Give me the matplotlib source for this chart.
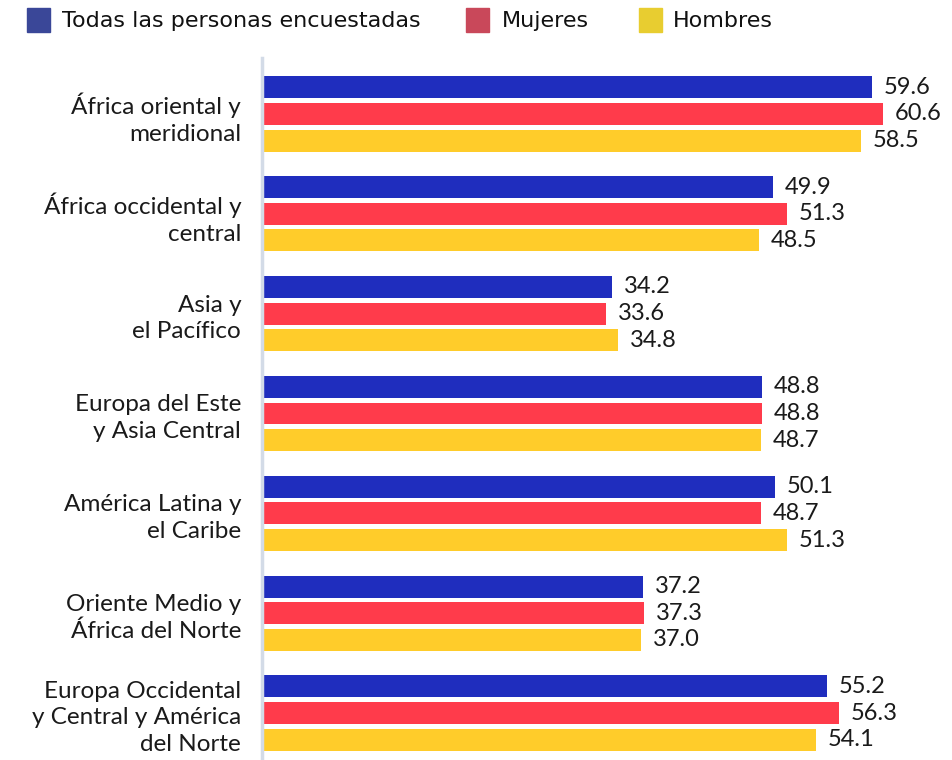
import matplotlib
matplotlib.use("Agg")
import matplotlib.pyplot as plt
from matplotlib.patches import Rectangle
import numpy as np

categories = ["África oriental y\nmeridional", "África occidental y\ncentral", "Asia y\nel Pacífico",
              "Europa del Este\ny Asia Central", "América Latina y\nel Caribe", "Oriente Medio y\nÁfrica del Norte",
              "Europa Occidental\ny Central y América\ndel Norte"]
todas = [59.6, 49.9, 34.2, 48.8, 50.1, 37.2, 55.2]
mujeres = [60.6, 51.3, 33.6, 48.8, 48.7, 37.3, 56.3]
hombres = [58.5, 48.5, 34.8, 48.7, 51.3, 37.0, 54.1]
series_names = ["Todas las personas encuestadas", "Mujeres", "Hombres"]

bar_colors = ["#1f2dbe", "#ff3b4b", "#ffcc2a"]
legend_colors = ["#3a4798", "#c9485a", "#e8cd30"]

W, H = 953, 760
fig = plt.figure(figsize=(W / 100, H / 100), dpi=100)
ax = fig.add_axes([262 / W, 0, 1 - 262 / W, 1 - 58 / H])

font = "Lato"
y = np.arange(len(categories))
off = 0.267
h = 0.22
for i, (vals, col) in enumerate(zip([todas, mujeres, hombres], bar_colors)):
    ys = y + (i - 1) * off
    ax.barh(ys, vals, height=h, color=col, left=0)
    for yy, v in zip(ys, vals):
        ax.text(v + 1.15, yy, f"{v:.1f}", va="center", ha="left", fontsize=17,
                family=font, color="#1a1a1a")

ax.set_ylim(len(categories) - 1 + 0.47, -0.56)
ax.set_xlim(0, (W - 262) / 10.24)
for s in ["top", "right", "bottom"]:
    ax.spines[s].set_visible(False)
ax.spines["left"].set_color("#d3dbe7")
ax.spines["left"].set_linewidth(2.5)
ax.set_xticks([])
ax.set_yticks(y)
ax.set_yticklabels(categories, fontsize=17.5, family=font, color="#1a1a1a", linespacing=1.33)
ax.tick_params(axis="y", length=0, pad=15)

# legend
leg_items = [(27, 62), (466, 502), (639, 673)]
for (sx, tx), name, col in zip(leg_items, series_names, legend_colors):
    fig.patches.append(Rectangle((sx / W, 1 - 32 / H), 23 / W, 24 / H, transform=fig.transFigure,
                                 color=col, figure=fig))
    fig.text(tx / W, 1 - 21 / H, name, ha="left", va="center", fontsize=16,
             family="Liberation Sans Narrow", color="#111111")

fig.savefig("out.png", dpi=100)
